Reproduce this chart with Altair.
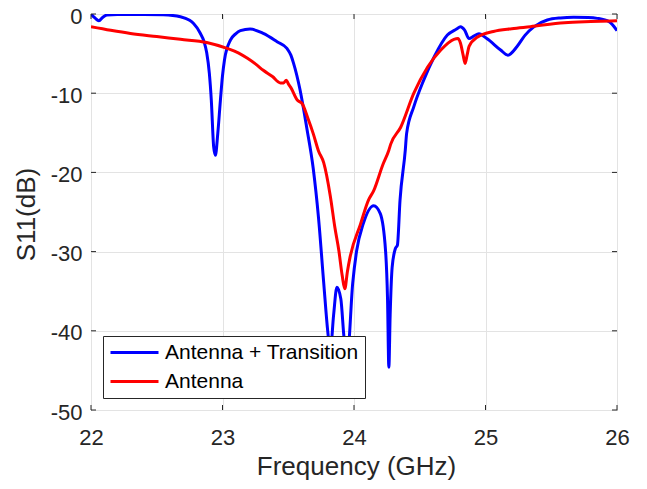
import altair as alt
import pandas as pd

# ---- data ----
blue_f = [22.00, 22.03, 22.06, 22.09, 22.12, 22.2, 22.4, 22.55, 22.68, 22.75, 22.78, 22.83, 22.86, 22.88,
          22.90, 22.915, 22.933, 22.946, 22.964, 22.984, 23.00, 23.015, 23.06, 23.10, 23.136, 23.21, 23.31,
          23.415, 23.49, 23.52, 23.54, 23.59, 23.64, 23.69, 23.73, 23.77, 23.80, 23.82, 23.845, 23.87, 23.90,
          23.925, 23.95, 23.99, 24.02, 24.07, 24.15, 24.20, 24.24, 24.255, 24.265, 24.275, 24.29, 24.315,
          24.33, 24.35, 24.39, 24.40, 24.455, 24.53, 24.61, 24.71, 24.78, 24.81, 24.84, 24.875, 24.91,
          24.95, 25.01, 25.115, 25.17, 25.24, 25.30, 25.37, 25.47, 25.57, 25.67, 25.78, 25.85, 25.94, 26.00]
blue_db = [0.0, -0.5, -0.85, -0.4, -0.13, -0.05, -0.05, -0.1, -0.34, -0.8, -1.2, -2.4, -3.5, -4.9,
           -7.5, -10.9, -16.8, -17.85, -15.1, -10.9, -7.8, -5.8, -3.3, -2.5, -2.1, -1.9, -2.45,
           -3.5, -4.35, -5.2, -6.2, -9.6, -14.3, -19.5, -25.7, -34.0, -40.0, -42.5, -38.0, -34.5, -36.0,
           -41.0, -43.0, -34.0, -29.9, -26.5, -24.2, -25.2, -29.9, -36.0, -44.6, -38.0, -32.0, -29.6,
           -29.2, -23.5, -17.2, -15.1, -11.7, -8.35, -5.4, -2.66, -1.9, -1.6, -2.0, -3.1, -2.8,
           -2.5, -3.1, -4.55, -5.2, -4.1, -2.7, -1.6, -0.76, -0.5, -0.42, -0.45, -0.55, -0.97, -2.1]

red_f = [22.00, 22.15, 22.3, 22.5, 22.68, 22.88, 23.035, 23.12, 23.19, 23.25, 23.31, 23.38, 23.44, 23.465,
         23.485, 23.50, 23.52, 23.57, 23.605, 23.65, 23.69, 23.73, 23.77, 23.82, 23.855, 23.885, 23.91,
         23.93, 23.95, 23.97, 24.05, 24.11, 24.15, 24.22, 24.265, 24.28, 24.355, 24.455, 24.56, 24.66,
         24.76, 24.79, 24.81, 24.83, 24.845, 24.86, 24.875, 24.94, 25.06, 25.2, 25.34, 25.6, 25.8, 26.0]
red_db = [-1.6, -2.05, -2.45, -2.85, -3.2, -3.6, -4.35, -4.9, -5.6, -6.3, -7.1, -7.9, -8.7, -8.7,
          -8.35, -8.8, -9.3, -10.9, -11.3, -13.2, -15.1, -17.3, -18.8, -23.0, -27.0, -29.9, -33.0,
          -34.7, -32.5, -30.7, -26.5, -23.5, -22.3, -19.0, -17.2, -16.4, -14.3, -10.0, -6.7, -4.55,
          -3.2, -3.1, -3.7, -5.2, -6.25, -5.2, -4.1, -2.9, -2.2, -1.85, -1.6, -1.1, -0.95, -0.85]

series_names = ["Antenna + Transition", "Antenna"]
series_colors = ["#0000ff", "#ff0000"]
x_ticks = [22, 23, 24, 25, 26]
y_ticks = [-50, -40, -30, -20, -10, 0]

rows = []
for f, d in zip(blue_f, blue_db):
    rows.append({"f": f, "db": d, "series": series_names[0], "k": 0})
for f, d in zip(red_f, red_db):
    rows.append({"f": f, "db": d, "series": series_names[1], "k": 1})
df = pd.DataFrame(rows)

W, H = 526, 396
FONT = "Liberation Sans"
INK = "#262626"

xscale = alt.Scale(domain=[22, 26], nice=False, zero=False)
yscale = alt.Scale(domain=[-50, 0], nice=False, zero=False)

lines = alt.Chart(df).mark_line(strokeWidth=3, interpolate="monotone", clip=True).encode(
    x=alt.X("f:Q", scale=xscale, title="Frequency (GHz)",
            axis=alt.Axis(values=x_ticks, labelExpr="'' + datum.value",
                          labelBaseline="alphabetic", labelPadding=34,
                          titleX=265, titleY=64, titleBaseline="alphabetic", titleAlign="center")),
    y=alt.Y("db:Q", scale=yscale, title="S11(dB)",
            axis=alt.Axis(values=y_ticks, labelExpr="'' + datum.value", labelPadding=9,
                          labelOffset=2,
                          titleX=-57, titleY=200, titleBaseline="alphabetic", titleAlign="center",
                          titleAngle=-90)),
    color=alt.Color("series:N", sort=series_names,
                    scale=alt.Scale(domain=series_names, range=series_colors),
                    legend=alt.Legend(orient="none", legendX=12, legendY=322, title=None,
                                      symbolType="stroke", symbolSize=2304, symbolStrokeWidth=3,
                                      clipHeight=21,
                                      labelFont=FONT, labelFontSize=21, labelColor="black",
                                      labelOffset=5, labelLimit=400, padding=6, rowPadding=7,
                                      strokeColor=INK, fillColor="white", direction="vertical")),
    order=alt.Order("k:Q"),
)

xt = pd.DataFrame({"f": x_ticks})
yt = pd.DataFrame({"db": y_ticks})

xtick_top = alt.Chart(xt).mark_rule(color=INK, strokeWidth=1).encode(
    x=alt.X("f:Q", scale=xscale, title="Frequency (GHz)"), y=alt.value(0), y2=alt.value(5))
xtick_bot = alt.Chart(xt).mark_rule(color=INK, strokeWidth=1).encode(
    x=alt.X("f:Q", scale=xscale, title="Frequency (GHz)"), y=alt.value(H - 5), y2=alt.value(H))
ytick_l = alt.Chart(yt).mark_rule(color=INK, strokeWidth=1).encode(
    y=alt.Y("db:Q", scale=yscale, title="S11(dB)"), x=alt.value(0), x2=alt.value(5))
ytick_r = alt.Chart(yt).mark_rule(color=INK, strokeWidth=1).encode(
    y=alt.Y("db:Q", scale=yscale, title="S11(dB)"), x=alt.value(W - 5), x2=alt.value(W))

chart = alt.layer(lines, xtick_top, xtick_bot, ytick_l, ytick_r).properties(
    width=W, height=H,
    autosize=alt.AutoSizeParams(type="none"),
    padding={"left": 83, "top": 6, "right": 22, "bottom": 71},
    background="white",
).configure_view(stroke=INK, strokeWidth=1).configure_axis(
    grid=True, gridColor="#e3e3e3", gridWidth=1, domain=False, ticks=False, tickSize=0,
    labelFont=FONT, labelFontSize=22, labelColor=INK, labelFlush=False,
    titleFont=FONT, titleFontSize=26, titleColor=INK, titleFontWeight="normal",
)

chart.save("out.html", embed_options={"renderer": "svg", "actions": False})
